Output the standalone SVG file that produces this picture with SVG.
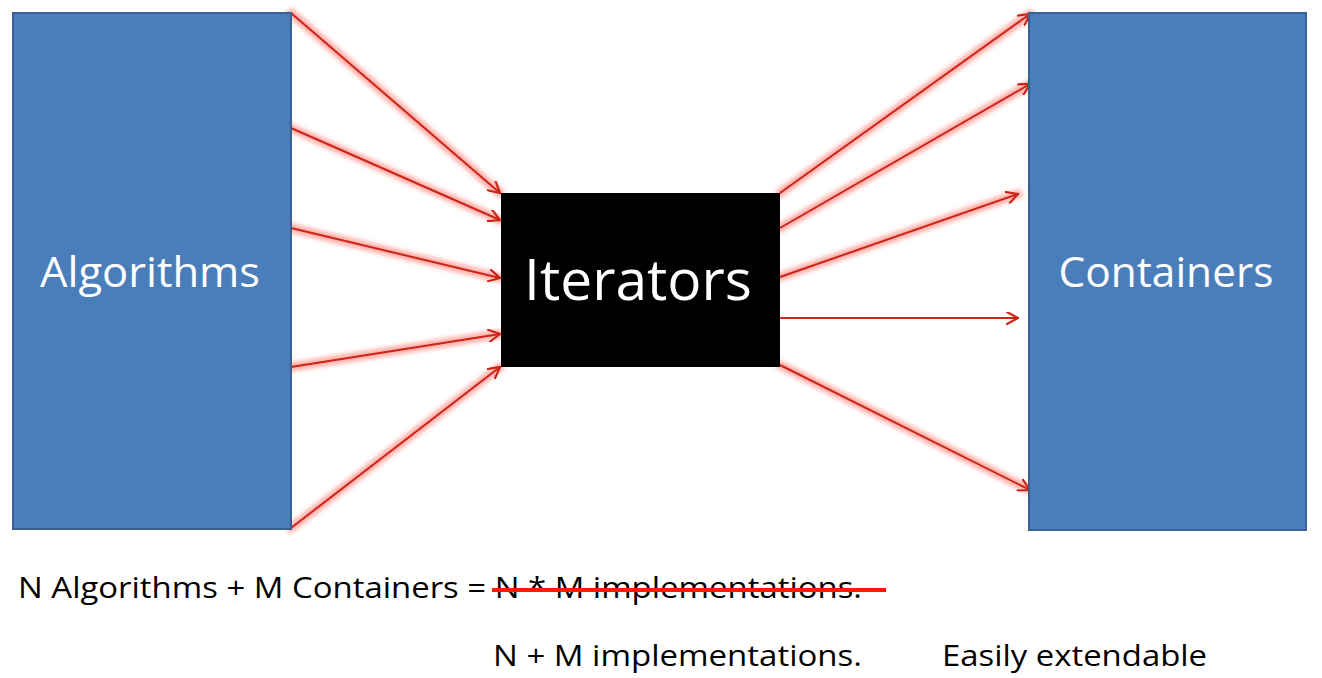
<svg xmlns="http://www.w3.org/2000/svg" width="1322" height="678" viewBox="0 0 1322 678">
<defs>
<style>
.box{fill:#4a7ebb;stroke:#3a6290;stroke-width:2}
.lbl{font-family:"Open Sans","Noto Sans","Liberation Sans",sans-serif;fill:#fff;text-anchor:middle}
.txt{font-family:"Open Sans","Noto Sans","Liberation Sans",sans-serif;fill:#000;font-size:30px}
.glow{fill:none;stroke:#ff7a70;stroke-width:9;stroke-opacity:0.6;stroke-linecap:round;filter:url(#blur)}
.arr{fill:none;stroke:#cc2418;stroke-width:2;marker-end:url(#ah)}
</style>
<filter id="blur" x="-20%" y="-20%" width="140%" height="140%"><feGaussianBlur stdDeviation="2"/></filter>
<marker id="ah" viewBox="0 0 12 12" refX="11" refY="6" markerWidth="13" markerHeight="13" markerUnits="userSpaceOnUse" orient="auto">
<path d="M0,0 L11,6 L0,12" fill="none" stroke="#cc2418" stroke-width="2"/>
</marker>
</defs>
<rect width="1322" height="678" fill="#fff"/>
<g id="connectors">
<g id="glows">
<path class="glow" d="M291,13 L500,193"/>
<path class="glow" d="M291,128 L500,220"/>
<path class="glow" d="M291,228 L500,278"/>
<path class="glow" d="M291,367 L500,334"/>
<path class="glow" d="M291,528 L500,367"/>
<path class="glow" d="M780,193 L1030,14"/>
<path class="glow" d="M780,228 L1030,84"/>
<path class="glow" d="M780,277 L1018,194"/>
<path class="glow" d="M780,318 L1018,318"/>
<path class="glow" d="M780,365 L1030,490"/>
</g>
<path class="arr" d="M291,13 L500,193"/>
<path class="arr" d="M291,128 L500,220"/>
<path class="arr" d="M291,228 L500,278"/>
<path class="arr" d="M291,367 L500,334"/>
<path class="arr" d="M291,528 L500,367"/>
<path class="arr" d="M780,193 L1030,14"/>
<path class="arr" d="M780,228 L1030,84"/>
<path class="arr" d="M780,277 L1018,194"/>
<path class="arr" d="M780,318 L1018,318"/>
<path class="arr" d="M780,365 L1030,490"/>
</g>
<g id="algorithms">
<rect class="box" x="13" y="13" width="278" height="516"/>
<text class="lbl" x="150" y="287" font-size="42" textLength="220" lengthAdjust="spacingAndGlyphs">Algorithms</text>
</g>
<g id="iterators">
<rect x="501" y="193" width="279" height="174" fill="#000"/>
<text class="lbl" x="638" y="300" font-size="56" textLength="228" lengthAdjust="spacingAndGlyphs">Iterators</text>
</g>
<g id="containers">
<rect class="box" x="1029" y="13" width="277" height="517"/>
<text class="lbl" x="1166" y="287" font-size="42" textLength="215" lengthAdjust="spacingAndGlyphs">Containers</text>
</g>
<g id="notes">
<text class="txt" x="18" y="598" textLength="844" lengthAdjust="spacingAndGlyphs">N Algorithms + M Containers = N * M implementations.</text>
<line x1="492" y1="590" x2="886" y2="590" stroke="#ff1a00" stroke-width="4"/>
<text class="txt" x="493" y="666" textLength="369" lengthAdjust="spacingAndGlyphs">N + M implementations.</text>
<text class="txt" x="942" y="666" textLength="265" lengthAdjust="spacingAndGlyphs">Easily extendable</text>
</g>
</svg>
